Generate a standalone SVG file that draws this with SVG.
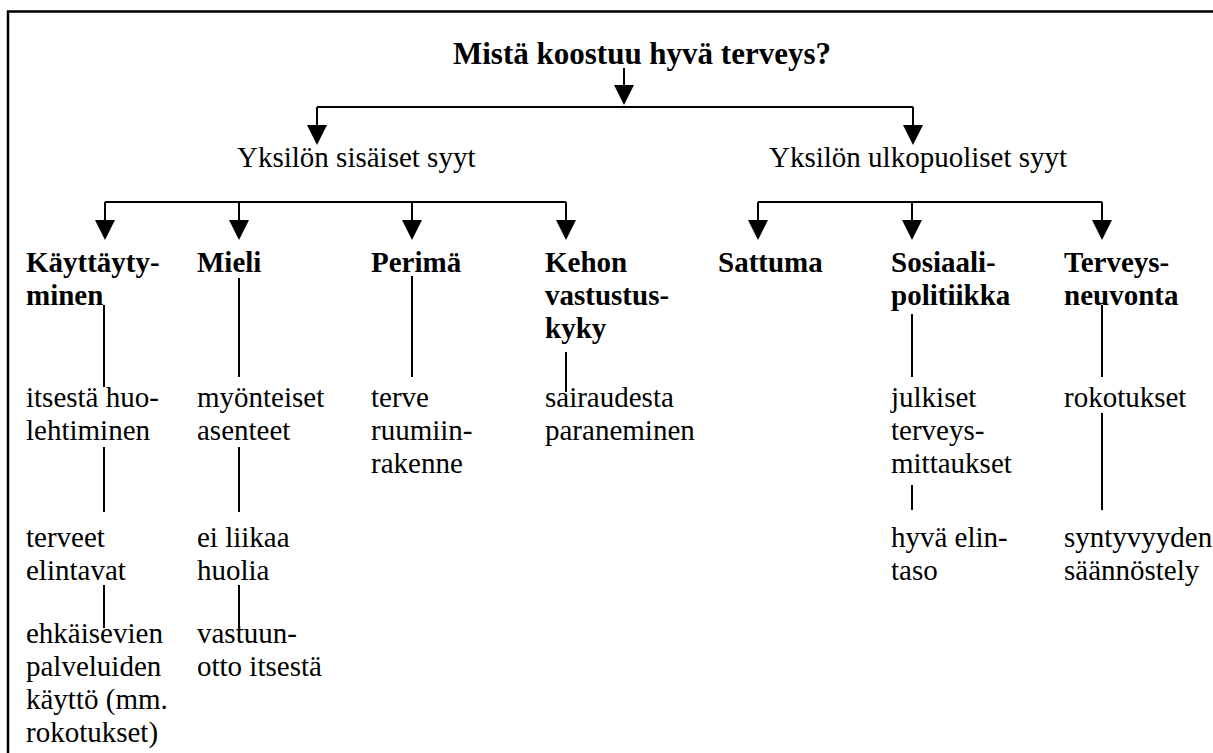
<svg xmlns="http://www.w3.org/2000/svg" width="1213" height="753" viewBox="0 0 1213 753">
  <defs>
    <marker id="head" viewBox="0 0 20 20" refX="16" refY="10" markerWidth="20" markerHeight="20" markerUnits="userSpaceOnUse" orient="auto">
      <path d="M0,0 L20,10 L0,20 z" fill="#000"/>
    </marker>
    <style>
      text { font-family: Tinos, "Liberation Serif", "Times New Roman", Times, "Nimbus Roman", "Nimbus Roman No9 L", FreeSerif, "DejaVu Serif", "Noto Serif", Georgia, serif; font-size: 29px; fill: #000; }
      .b { font-weight: bold; }
      .title { font-weight: bold; font-size: 31px; }
      .ln { stroke: #000; stroke-width: 2; fill: none; }
      .ar { stroke: #000; stroke-width: 2; fill: none; marker-end: url(#head); }
      .frame { stroke: #000; stroke-width: 2.5; fill: none; }
    </style>
  </defs>
  <rect width="1213" height="753" fill="#fff"/>

  <!-- open frame: top rule and left rule -->
  <path class="frame" d="M8,753 V11.5 H1213"/>

  <g id="title"><text class="title" x="453" y="64">Mistä koostuu hyvä terveys?</text></g>

  <g id="inner"><text x="237" y="167">Yksilön sisäiset syyt</text></g>
  <g id="outer"><text x="769" y="167">Yksilön ulkopuoliset syyt</text></g>

  <g id="behaviour">
    <text class="b" x="26" y="272">Käyttäyty-</text>
    <text class="b" x="26" y="305">minen</text>
    <text x="26" y="407">itsestä huo-</text>
    <text x="26" y="440">lehtiminen</text>
    <text x="26" y="547">terveet</text>
    <text x="26" y="580">elintavat</text>
    <text x="26" y="643">ehkäisevien</text>
    <text x="26" y="676">palveluiden</text>
    <text x="26" y="709">käyttö (mm.</text>
    <text x="26" y="742">rokotukset)</text>
  </g>

  <g id="mind">
    <text class="b" x="197" y="272">Mieli</text>
    <text x="197" y="407">myönteiset</text>
    <text x="197" y="440">asenteet</text>
    <text x="197" y="547">ei liikaa</text>
    <text x="197" y="580">huolia</text>
    <text x="197" y="643">vastuun-</text>
    <text x="197" y="676">otto itsestä</text>
  </g>

  <g id="heredity">
    <text class="b" x="371" y="272">Perimä</text>
    <text x="371" y="407">terve</text>
    <text x="371" y="440">ruumiin-</text>
    <text x="371" y="473">rakenne</text>
  </g>

  <g id="resistance">
    <text class="b" x="545" y="272">Kehon</text>
    <text class="b" x="545" y="305">vastustus-</text>
    <text class="b" x="545" y="338">kyky</text>
    <text x="545" y="407">sairaudesta</text>
    <text x="545" y="440">paraneminen</text>
  </g>

  <g id="chance">
    <text class="b" x="718" y="272">Sattuma</text>
  </g>

  <g id="social-policy">
    <text class="b" x="891" y="272">Sosiaali-</text>
    <text class="b" x="891" y="305">politiikka</text>
    <text x="891" y="407">julkiset</text>
    <text x="891" y="440">terveys-</text>
    <text x="891" y="473">mittaukset</text>
    <text x="891" y="547">hyvä elin-</text>
    <text x="891" y="580">taso</text>
  </g>

  <g id="health-counselling">
    <text class="b" x="1064" y="272">Terveys-</text>
    <text class="b" x="1064" y="305">neuvonta</text>
    <text x="1064" y="407">rokotukset</text>
    <text x="1064" y="547">syntyvyyden</text>
    <text x="1064" y="580">säännöstely</text>
  </g>

  <g id="connectors">
    <!-- top split -->
    <path class="ar" d="M624,68 V101"/>
    <path class="ln" d="M317,107 H913"/>
    <path class="ar" d="M317,107 V141"/>
    <path class="ar" d="M913,107 V141"/>
    <!-- inner causes -->
    <path class="ln" d="M105,202 H566"/>
    <path class="ar" d="M105,202 V236"/>
    <path class="ar" d="M239,202 V236"/>
    <path class="ar" d="M412,202 V236"/>
    <path class="ar" d="M566,202 V236"/>
    <!-- outer causes -->
    <path class="ln" d="M758,202 H1102"/>
    <path class="ar" d="M758,202 V236"/>
    <path class="ar" d="M912,202 V236"/>
    <path class="ar" d="M1102,202 V236"/>
    <!-- plain links down each column -->
    <path class="ln" d="M104,305 V387"/>
    <path class="ln" d="M104,447 V512"/>
    <path class="ln" d="M104,585 V628"/>
    <path class="ln" d="M239,278 V377"/>
    <path class="ln" d="M239,447 V512"/>
    <path class="ln" d="M239,585 V628"/>
    <path class="ln" d="M412,276 V377"/>
    <path class="ln" d="M566,352 V392"/>
    <path class="ln" d="M912,314 V377"/>
    <path class="ln" d="M912,485 V510"/>
    <path class="ln" d="M1102,305 V377"/>
    <path class="ln" d="M1102,413 V510"/>
  </g>
</svg>
